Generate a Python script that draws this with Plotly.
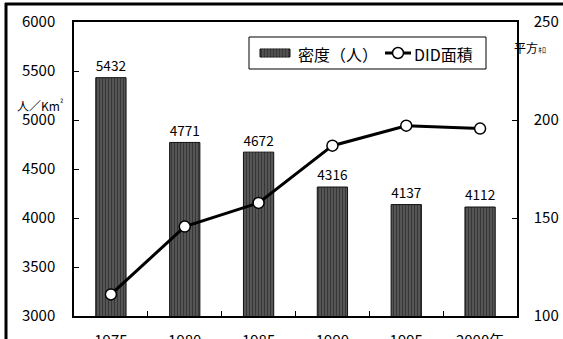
import plotly.graph_objects as go

years = ["1975", "1980", "1985", "1990", "1995", "2000年"]
density = [5432, 4771, 4672, 4316, 4137, 4112]
did_area = [111, 145.6, 157.7, 186.9, 197.1, 195.6]

FONT = "Noto Sans CJK JP"
L, R, T, B, W, H = 74, 46, 22, 23, 563, 339
PW, PH = W - L - R, H - T - B


def px(x):
    return (x - L) / PW


def py(y):
    return (H - B - y) / PH


fig = go.Figure()
fig.add_trace(go.Bar(
    x=years, y=density, name="密度（人）",
    marker=dict(color="#4a4a4a", line=dict(color="#111", width=1),
                pattern=dict(shape="|", fgcolor="#1a1a1a", bgcolor="#555555", size=3, solidity=0.35)),
    text=[str(v) for v in density], textposition="outside",
    textfont=dict(size=15, color="#000", family=FONT),
    cliponaxis=False,
))
fig.add_trace(go.Scatter(
    x=years, y=did_area, name="DID面積", yaxis="y2",
    mode="lines+markers",
    line=dict(color="#000", width=3),
    marker=dict(size=11, color="white", line=dict(color="#000", width=1.5)),
))

shapes = [
    # outer frame
    dict(type="line", xref="paper", yref="paper", x0=px(6), x1=px(6), y0=py(339), y1=py(3),
         line=dict(color="#000", width=3), layer="above"),
    dict(type="line", xref="paper", yref="paper", x0=px(5), x1=px(563), y0=py(4), y1=py(4),
         line=dict(color="#000", width=3), layer="above"),
    # legend box
    dict(type="rect", xref="paper", yref="paper", x0=px(249), x1=px(486), y0=py(69), y1=py(37),
         line=dict(color="#000", width=1), fillcolor="white", layer="above"),
    # legend bar swatch
    dict(type="rect", xref="paper", yref="paper", x0=px(260), x1=px(290), y0=py(57), y1=py(49),
         line=dict(color="#111", width=1), fillcolor="#3a3a3a", layer="above"),
    # legend line swatch
    dict(type="line", xref="paper", yref="paper", x0=px(385), x1=px(411), y0=py(53), y1=py(53),
         line=dict(color="#000", width=3), layer="above"),
    dict(type="circle", xref="paper", yref="paper", x0=px(392.5), x1=px(403.5), y0=py(58.5), y1=py(47.5),
         line=dict(color="#000", width=1.5), fillcolor="white", layer="above"),
]
# stripe lines in legend swatch
for i in range(1, 10):
    xx = 260 + i * 3
    shapes.append(dict(type="line", xref="paper", yref="paper", x0=px(xx), x1=px(xx),
                       y0=py(57), y1=py(49), line=dict(color="#666", width=1), layer="above"))

fig.update_layout(
    width=W, height=H,
    margin=dict(l=L, r=R, t=T, b=B),
    paper_bgcolor="white", plot_bgcolor="white",
    font=dict(family=FONT, size=15, color="#000"),
    bargap=0.59,
    showlegend=False,
    xaxis=dict(showline=True, linecolor="#000", linewidth=1.5, mirror=True,
               ticks="inside", ticklen=5, tickcolor="#000", tickson="boundaries",
               ticklabelstandoff=10, tickfont=dict(size=15), showgrid=False, automargin=False),
    yaxis=dict(range=[3000, 6000], dtick=500, showline=True, linecolor="#000", linewidth=1.5,
               ticks="inside", ticklen=5, tickcolor="#000", showgrid=False, zeroline=False,
               tickfont=dict(size=15), ticklabelstandoff=14, automargin=False),
    yaxis2=dict(range=[100, 250], dtick=50, overlaying="y", side="right",
                showline=True, linecolor="#000", linewidth=1.5,
                ticks="inside", ticklen=5, tickcolor="#000", showgrid=False, zeroline=False,
                tickfont=dict(size=15), ticklabelstandoff=12, automargin=False),
    shapes=shapes,
    annotations=[
        dict(text="人／Km<sup>²</sup>", xref="paper", yref="paper", x=px(15), y=py(105),
             xanchor="left", yanchor="middle", showarrow=False, font=dict(size=12, family=FONT)),
        dict(text="平方<span style='font-size:8px'>ｷﾛ</span>", xref="paper", yref="paper",
             x=px(512), y=py(47), xanchor="left", yanchor="middle", showarrow=False,
             font=dict(size=12, family=FONT)),
        dict(text="密度（人）", xref="paper", yref="paper", x=px(296), y=py(54),
             xanchor="left", yanchor="middle", showarrow=False, font=dict(size=16, family=FONT)),
        dict(text="DID面積", xref="paper", yref="paper", x=px(412), y=py(54),
             xanchor="left", yanchor="middle", showarrow=False, font=dict(size=16, family=FONT)),
    ],
)

fig.write_html("out.html")
